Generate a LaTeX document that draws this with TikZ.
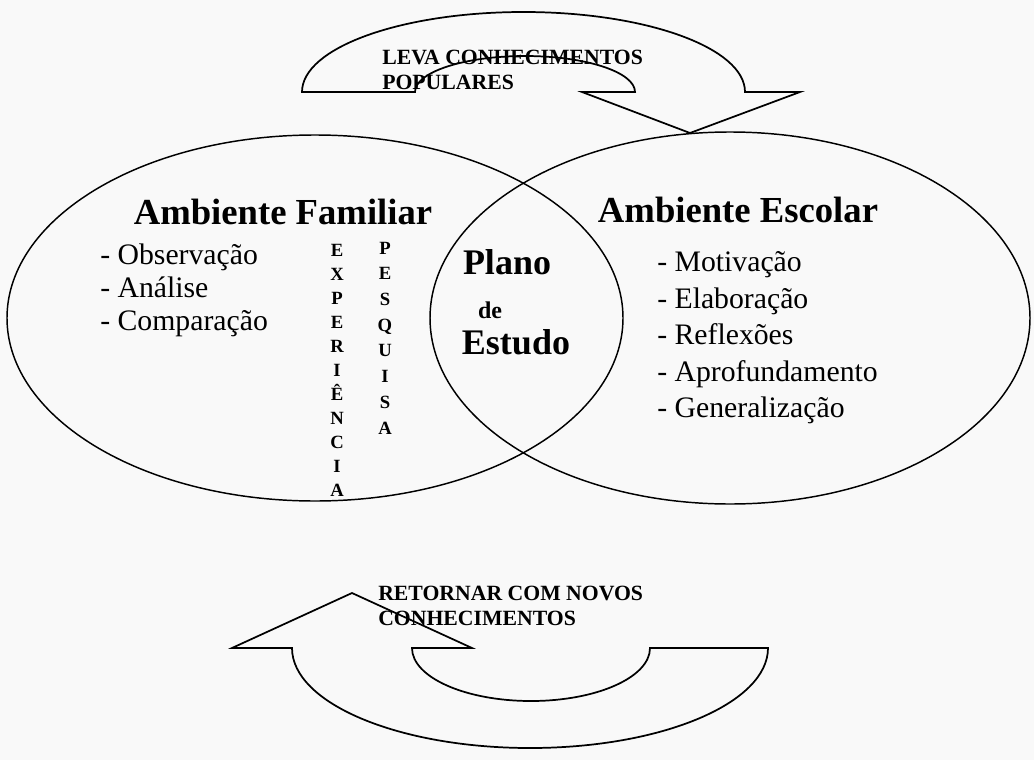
\documentclass[tikz,border=0pt]{standalone}
\usepackage{fontspec}
\setmainfont{Liberation Serif}

\begin{document}
\begin{tikzpicture}[x=0.75pt,y=0.75pt,yscale=-1,xscale=1,
  venn/.style={line width=1.1pt},
  seta/.style={line width=1.3pt, line join=miter},
  txt/.style={inner sep=0pt},
  titulo/.style={txt, font=\fontsize{27.5}{33}\selectfont\bfseries},
  lista/.style={txt, align=left, anchor=west},
  rotulo/.style={txt, align=left, anchor=west, font=\fontsize{16.3}{19}\selectfont\bfseries},
  pilha/.style={txt, align=center, font=\bfseries}]
%uncomment if require: \path (0,760); %set diagram left start at 0, and has height of 760
\useasboundingbox [fill=gray!5] (0,0) rectangle (1034,760);

%Shape: Ellipse [id:familiar] 
\draw [venn] (315,318) ellipse [x radius=308, y radius=183];
%Shape: Ellipse [id:escolar] 
\draw [venn] (730,318) ellipse [x radius=300, y radius=186];

%Shape: Curved Arrow [id:leva] 
\draw [seta] (302,92) -- (415,92) arc [start angle=180, end angle=360, x radius=110, y radius=36] -- (582,92) -- (690,133) -- (800,92) -- (745,92) arc [start angle=0, end angle=-180, x radius=221.5, y radius=80] -- cycle ;
%Shape: Curved Arrow [id:retorna] 
\draw [seta] (292,648) -- (232,648) -- (352,593) -- (472,648) -- (412,648) arc [start angle=180, end angle=0, x radius=119, y radius=53] -- (768,648) arc [start angle=0, end angle=180, x radius=238, y radius=100] -- cycle ;

% Text Node
\draw (382,70) node (leva) [rotulo] {LEVA CONHECIMENTOS\\POPULARES};
% Text Node
\draw (378,606) node (retorna) [rotulo] {RETORNAR COM NOVOS\\CONHECIMENTOS};
% Text Node
\draw (283,212) node (familiar) [titulo] {Ambiente Familiar};
% Text Node
\draw (738,210) node (escolar) [titulo] {Ambiente Escolar};
% Text Node
\draw (100,290) node (obs) [lista, font=\fontsize{22.3}{24.75}\selectfont] {- Observação\\- Análise\\- Comparação};
% Text Node
\draw (657,338) node (mot) [lista, font=\fontsize{22.3}{27.4}\selectfont] {- Motivação\\- Elaboração\\- Reflexões\\- Aprofundamento\\- Generalização};
% Text Node
\draw (507,262) node (plano) [titulo, font=\fontsize{27}{32}\selectfont\bfseries] {Plano};
% Text Node
\draw (490,310) node (de) [txt, font=\fontsize{18}{22}\selectfont\bfseries] {de};
% Text Node
\draw (516,342) node (estudo) [titulo, font=\fontsize{27}{32}\selectfont\bfseries] {Estudo};
% Text Node
\draw (337,370) node (exp) [pilha, font=\fontsize{14}{18}\selectfont\bfseries] {E\\X\\P\\E\\R\\I\\Ê\\N\\C\\I\\A};
% Text Node
\draw (385,338) node (pesq) [pilha, font=\fontsize{14}{19.3}\selectfont\bfseries] {P\\E\\S\\Q\\U\\I\\S\\A};

\end{tikzpicture}
\end{document}
